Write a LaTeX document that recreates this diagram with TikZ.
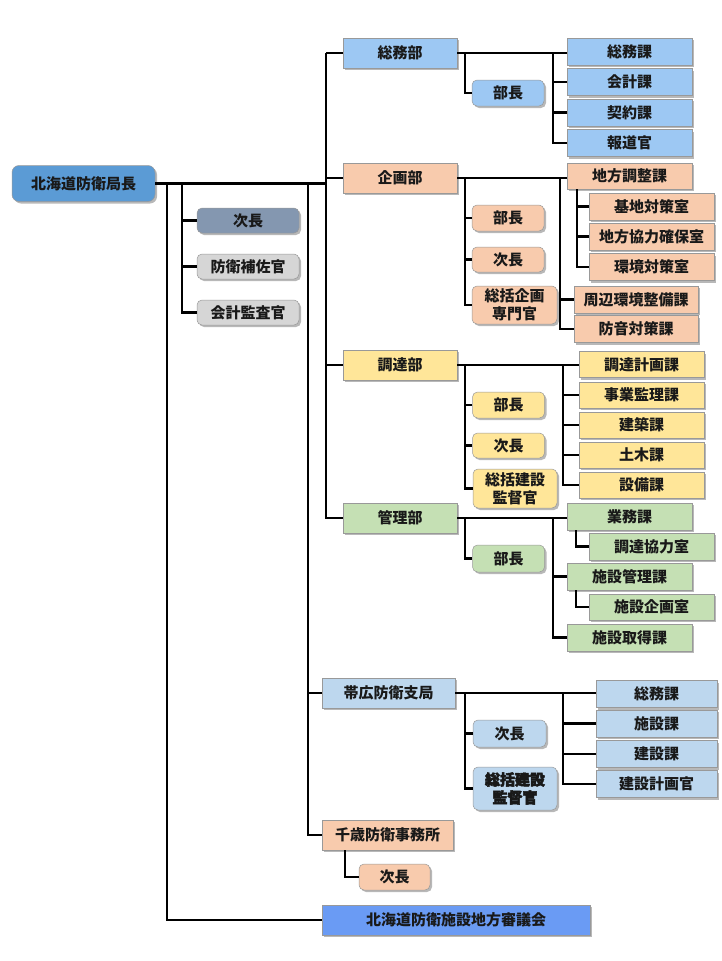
\documentclass[tikz,border=0pt]{standalone}
\usepackage{fontspec}
\setmainfont{Noto Sans CJK JP}
\newfontfamily\heavyjp{Noto Sans CJK JP}[FakeBold=3]
\usetikzlibrary{shadows}
\definecolor{rootc}{HTML}{5B9BD5}
\definecolor{jichoc}{HTML}{8497B0}
\definecolor{grayc}{HTML}{D6D6D6}
\definecolor{somuc}{HTML}{9DC8F3}
\definecolor{kikakuc}{HTML}{F8CBAD}
\definecolor{chotatsuc}{HTML}{FFE699}
\definecolor{kanric}{HTML}{C5E0B4}
\definecolor{obic}{HTML}{BDD7EE}
\definecolor{shingic}{HTML}{6A9BF4}
\tikzset{
  box/.style={draw=black!40, line width=0.5pt, inner sep=0pt, align=center,
    font=\fontsize{15}{18}\selectfont\bfseries, text=black!90,
    drop shadow={shadow xshift=2pt, shadow yshift=-2pt, fill=black, opacity=0.28}},
  rbox/.style={box, rounded corners=5pt},
  conn/.style={line width=2.8pt, draw=black},
  dept/.style={box, minimum width=114pt, minimum height=30pt},
  ka/.style={box, minimum width=125pt, minimum height=27pt},
  small/.style={rbox, minimum width=72pt, minimum height=26pt},
}
\begin{document}
\begin{tikzpicture}[x=1pt,y=-1pt]
\useasboundingbox (0,0) rectangle (721,961);
% root
\node[rbox, rounded corners=7pt, fill=rootc, minimum width=143pt, minimum height=36pt] (root) at (83.5,183.5) {北海道防衛局長};
% staff
\node[rbox, fill=jichoc, minimum width=102pt, minimum height=25pt] (s1) at (248,220.5) {次長};
\node[rbox, fill=grayc, minimum width=102pt, minimum height=25pt] (s2) at (248,266.5) {防衛補佐官};
\node[rbox, fill=grayc, minimum width=102pt, minimum height=25pt] (s3) at (248,312.5) {会計監査官};
% departments
\node[dept, fill=somuc] (somu) at (400,53) {総務部};
\node[dept, fill=kikakuc] (kikaku) at (400,178) {企画部};
\node[dept, fill=chotatsuc] (chotatsu) at (400,365) {調達部};
\node[dept, fill=kanric] (kanri) at (400,518) {管理部};
\node[dept, fill=obic, minimum width=133pt] (obi) at (388.5,693) {帯広防衛支局};
\node[dept, fill=kikakuc, minimum width=131pt] (chitose) at (387.5,835) {千歳防衛事務所};
\node[dept, fill=shingic, minimum width=268pt] (shingi) at (456,920) {北海道防衛施設地方審議会};
% 総務部 group
\node[small, fill=somuc] (sbucho) at (508,93) {部長};
\node[ka, fill=somuc] (s_somuka) at (629.5,51.5) {総務課};
\node[ka, fill=somuc] (s_kaikei) at (629.5,82) {会計課};
\node[ka, fill=somuc] (s_keiyaku) at (629.5,112.5) {契約課};
\node[ka, fill=somuc] (s_hodo) at (629.5,143) {報道官};
% 企画部 group
\node[small, fill=kikakuc] (kbucho) at (508,218) {部長};
\node[small, fill=kikakuc, minimum height=25pt] (kjicho) at (508,259.5) {次長};
\node[rbox, fill=kikakuc, minimum width=85pt, minimum height=38pt] (ksenmon) at (514.5,305) {総括企画\\専門官};
\node[ka, fill=kikakuc, minimum height=26pt] (k_chiho) at (629.5,176) {地方調整課};
\node[ka, fill=kikakuc] (k_kichi) at (651.5,206.5) {基地対策室};
\node[ka, fill=kikakuc] (k_kyoryoku) at (651.5,236.5) {地方協力確保室};
\node[ka, fill=kikakuc] (k_kankyo) at (651.5,267) {環境対策室};
\node[ka, fill=kikakuc, minimum width=124pt] (k_shuhen) at (636,299.5) {周辺環境整備課};
\node[ka, fill=kikakuc, minimum width=124pt] (k_boon) at (636,329) {防音対策課};
% 調達部 group
\node[small, fill=chotatsuc] (cbucho) at (508.5,405) {部長};
\node[small, fill=chotatsuc, minimum height=25pt] (cjicho) at (508.5,445.5) {次長};
\node[rbox, fill=chotatsuc, minimum width=84pt, minimum height=39pt] (ckantoku) at (515,488.5) {総括建設\\監督官};
\node[ka, fill=chotatsuc, minimum height=26pt] (c_keikaku) at (641.5,364.5) {調達計画課};
\node[ka, fill=chotatsuc, minimum height=26pt] (c_jigyo) at (641.5,395) {事業監理課};
\node[ka, fill=chotatsuc, minimum height=26pt] (c_kenchiku) at (641.5,425) {建築課};
\node[ka, fill=chotatsuc, minimum height=26pt] (c_doboku) at (641.5,455) {土木課};
\node[ka, fill=chotatsuc, minimum height=26pt] (c_setsubi) at (641.5,485) {設備課};
% 管理部 group
\node[small, fill=kanric, minimum height=27pt] (mbucho) at (508.5,558.5) {部長};
\node[ka, fill=kanric] (m_gyomu) at (629.5,516.5) {業務課};
\node[ka, fill=kanric] (m_kyoryoku) at (651.5,546.5) {調達協力室};
\node[ka, fill=kanric] (m_shisetsu) at (629.5,576.5) {施設管理課};
\node[ka, fill=kanric, minimum height=26pt] (m_kikaku) at (651.5,607) {施設企画室};
\node[ka, fill=kanric] (m_shutoku) at (629.5,637.5) {施設取得課};
% 帯広 group
\node[small, fill=obic, minimum width=73pt, minimum height=27pt] (ojicho) at (509.5,733.5) {次長};
\node[rbox, fill=obic, minimum width=84pt, minimum height=43pt, font=\fontsize{15}{18}\selectfont\heavyjp\bfseries] (okantoku) at (515,788.5) {総括建設\\監督官};
\node[ka, fill=obic, minimum width=121pt] (o_somu) at (656.5,694) {総務課};
\node[ka, fill=obic, minimum width=121pt] (o_shisetsu) at (656.5,723.5) {施設課};
\node[ka, fill=obic, minimum width=121pt] (o_kensetsu) at (656.5,754) {建設課};
\node[ka, fill=obic, minimum width=121pt] (o_keikaku) at (656.5,784) {建設計画官};
% 千歳 group
\node[small, fill=kikakuc, minimum width=71pt] (tjicho) at (394.5,877) {次長};

% ---- junction coordinates ----
\coordinate (j167) at (167,183.5);
\coordinate (j182) at (182,183.5);
\coordinate (j308) at (308,183.5);
\coordinate (j326t) at (326,53);
\coordinate (sa) at (465,53);
\coordinate (sb) at (553,53);
\coordinate (ka) at (465,178);
\coordinate (kb) at (560,178);
\coordinate (kc) at (577,189);
\coordinate (ca) at (465,365);
\coordinate (cb) at (563,365);
\coordinate (ma) at (465,518);
\coordinate (mb) at (553,518);
\coordinate (mc) at (576,530);
\coordinate (md) at (576,590);
\coordinate (oa) at (465,693);
\coordinate (ob) at (563,693);
\coordinate (ta) at (345,850);

% ---- connectors ----
% root trunk
\draw[conn] (root.east) -- (326,183.5);
\draw[conn] (j167) |- (shingi.west);
\draw[conn] (j182) |- (s3.west);
\draw[conn] (s1.west) -- (s1.west -| j182);
\draw[conn] (s2.west) -- (s2.west -| j182);
\draw[conn] (j308) |- (chitose.west);
\draw[conn] (obi.west) -- (obi.west -| j308);
\draw[conn] (j326t) |- (kanri.west);
\draw[conn] (somu.west) -- (somu.west -| j326t);
\draw[conn] (kikaku.west) -- (kikaku.west -| j326t);
\draw[conn] (chotatsu.west) -- (chotatsu.west -| j326t);
% 総務部
\draw[conn] (somu.east) -- (s_somuka.west |- somu.east);
\draw[conn] (sa) |- (sbucho.west);
\draw[conn] (sb) |- (s_hodo.west);
\draw[conn] (s_kaikei.west) -- (s_kaikei.west -| sb);
\draw[conn] (s_keiyaku.west) -- (s_keiyaku.west -| sb);
% 企画部
\draw[conn] (kikaku.east) -- (k_chiho.west |- kikaku.east);
\draw[conn] (ka) |- (ksenmon.west);
\draw[conn] (kbucho.west) -- (kbucho.west -| ka);
\draw[conn] (kjicho.west) -- (kjicho.west -| ka);
\draw[conn] (kb) |- (k_boon.west);
\draw[conn] (k_shuhen.west) -- (k_shuhen.west -| kb);
\draw[conn] (kc) |- (k_kankyo.west);
\draw[conn] (k_kichi.west) -- (k_kichi.west -| kc);
\draw[conn] (k_kyoryoku.west) -- (k_kyoryoku.west -| kc);
% 調達部
\draw[conn] (chotatsu.east) -- (c_keikaku.west |- chotatsu.east);
\draw[conn] (ca) |- (ckantoku.west);
\draw[conn] (cbucho.west) -- (cbucho.west -| ca);
\draw[conn] (cjicho.west) -- (cjicho.west -| ca);
\draw[conn] (cb) |- (c_setsubi.west);
\draw[conn] (c_jigyo.west) -- (c_jigyo.west -| cb);
\draw[conn] (c_kenchiku.west) -- (c_kenchiku.west -| cb);
\draw[conn] (c_doboku.west) -- (c_doboku.west -| cb);
% 管理部
\draw[conn] (kanri.east) -- (m_gyomu.west |- kanri.east);
\draw[conn] (ma) |- (mbucho.west);
\draw[conn] (mb) |- (m_shutoku.west);
\draw[conn] (m_shisetsu.west) -- (m_shisetsu.west -| mb);
\draw[conn] (mc) |- (m_kyoryoku.west);
\draw[conn] (md) |- (m_kikaku.west);
% 帯広
\draw[conn] (obi.east) -- (o_somu.west |- obi.east);
\draw[conn] (oa) |- (okantoku.west);
\draw[conn] (ojicho.west) -- (ojicho.west -| oa);
\draw[conn] (ob) |- (o_keikaku.west);
\draw[conn] (o_shisetsu.west) -- (o_shisetsu.west -| ob);
\draw[conn] (o_kensetsu.west) -- (o_kensetsu.west -| ob);
% 千歳
\draw[conn] (ta) |- (tjicho.west);
\end{tikzpicture}
\end{document}
